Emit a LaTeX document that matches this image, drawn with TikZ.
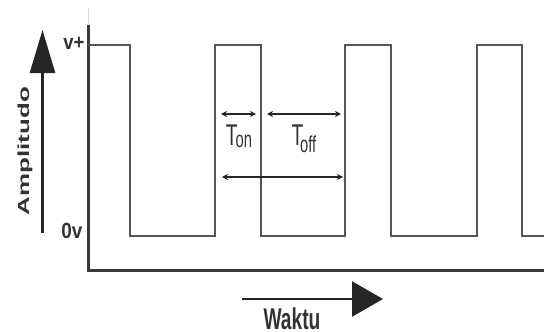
\documentclass[tikz,border=0pt]{standalone}
\usepackage{fontspec}
\setmainfont{Liberation Sans}
\usetikzlibrary{arrows.meta}
\definecolor{wave}{HTML}{555555}
\definecolor{axis}{HTML}{3A3A3A}
\definecolor{ink}{HTML}{262626}
\definecolor{txt}{HTML}{333333}
\begin{document}
\begin{tikzpicture}[x=1pt,y=-1pt,
  waveline/.style={draw=wave,line width=2.4pt,line join=miter},
  axisline/.style={draw=axis,line width=3pt},
  dimarrow/.style={draw=ink,line width=1.6pt,{Stealth[length=6pt,width=6pt]}-{Stealth[length=6pt,width=6pt]}},
  lbl/.style={text=txt,inner sep=0pt}]
\useasboundingbox (0,0) rectangle (544,332);
% faint extension above y axis
\draw[black!15,line width=0.8pt] (88,8) -- (88,25);
% axes
\coordinate (ytop) at (88,25);
\coordinate (origin) at (88,270);
\coordinate (xend) at (544,270);
\draw[axisline] (ytop) -- (origin) -- (xend);
% waveform
\draw[waveline] (88,45) -- (130,45) -- (130,236) -- (215,236) -- (215,45) -- (261,45) -- (261,236)
  -- (345,236) -- (345,45) -- (391,45) -- (391,236) -- (477,236) -- (477,45) -- (522,45) -- (522,236) -- (544,236);
% amplitude arrow
\coordinate (ampA) at (42.5,233);
\coordinate (ampB) at (42.5,30);
\draw[draw=ink,line width=2.6pt,-{Triangle[length=43pt,width=25pt]}] (ampA) -- (ampB);
\node[lbl,rotate=90,font=\bfseries] (amp) at (25,151)
  {\scalebox{1.62}[1]{\fontsize{16}{16}\selectfont Amplitudo}};
% time arrow
\coordinate (tA) at (242,299);
\coordinate (tB) at (383,299);
\draw[draw=ink,line width=2.6pt,-{Triangle[length=31pt,width=35pt]}] (tA) -- (tB);
\node[lbl,anchor=base,font=\bfseries] (waktu) at (292,329.5)
  {\scalebox{0.64}[1]{\fontsize{30}{30}\selectfont Waktu}};
% level labels
\node[lbl,font=\bfseries] (vplus) at (74,43) {\scalebox{0.88}[1]{\fontsize{21}{21}\selectfont v+}};
\node[lbl,font=\bfseries] (zerov) at (72,231) {\scalebox{0.86}[1]{\fontsize{22}{22}\selectfont 0v}};
% dimension arrows
\coordinate (onA) at (221,114);
\coordinate (onB) at (256,114);
\coordinate (offA) at (267,114);
\coordinate (offB) at (341,114);
\coordinate (perA) at (222,177);
\coordinate (perB) at (343,177);
\draw[dimarrow] (onA) -- (onB);
\draw[dimarrow] (offA) -- (offB);
\draw[dimarrow] (perA) -- (perB);
\node[lbl,anchor=base] (ton) at (239,145)
  {\scalebox{0.64}[1]{\fontsize{30}{30}\selectfont T\kern-3pt\raisebox{-2pt}{\fontsize{23}{23}\selectfont on}}};
\node[lbl,anchor=base] (toff) at (304,145)
  {\scalebox{0.64}[1]{\fontsize{30}{30}\selectfont T\kern-5pt\raisebox{-7pt}{\fontsize{23}{23}\selectfont off}}};
\end{tikzpicture}
\end{document}
